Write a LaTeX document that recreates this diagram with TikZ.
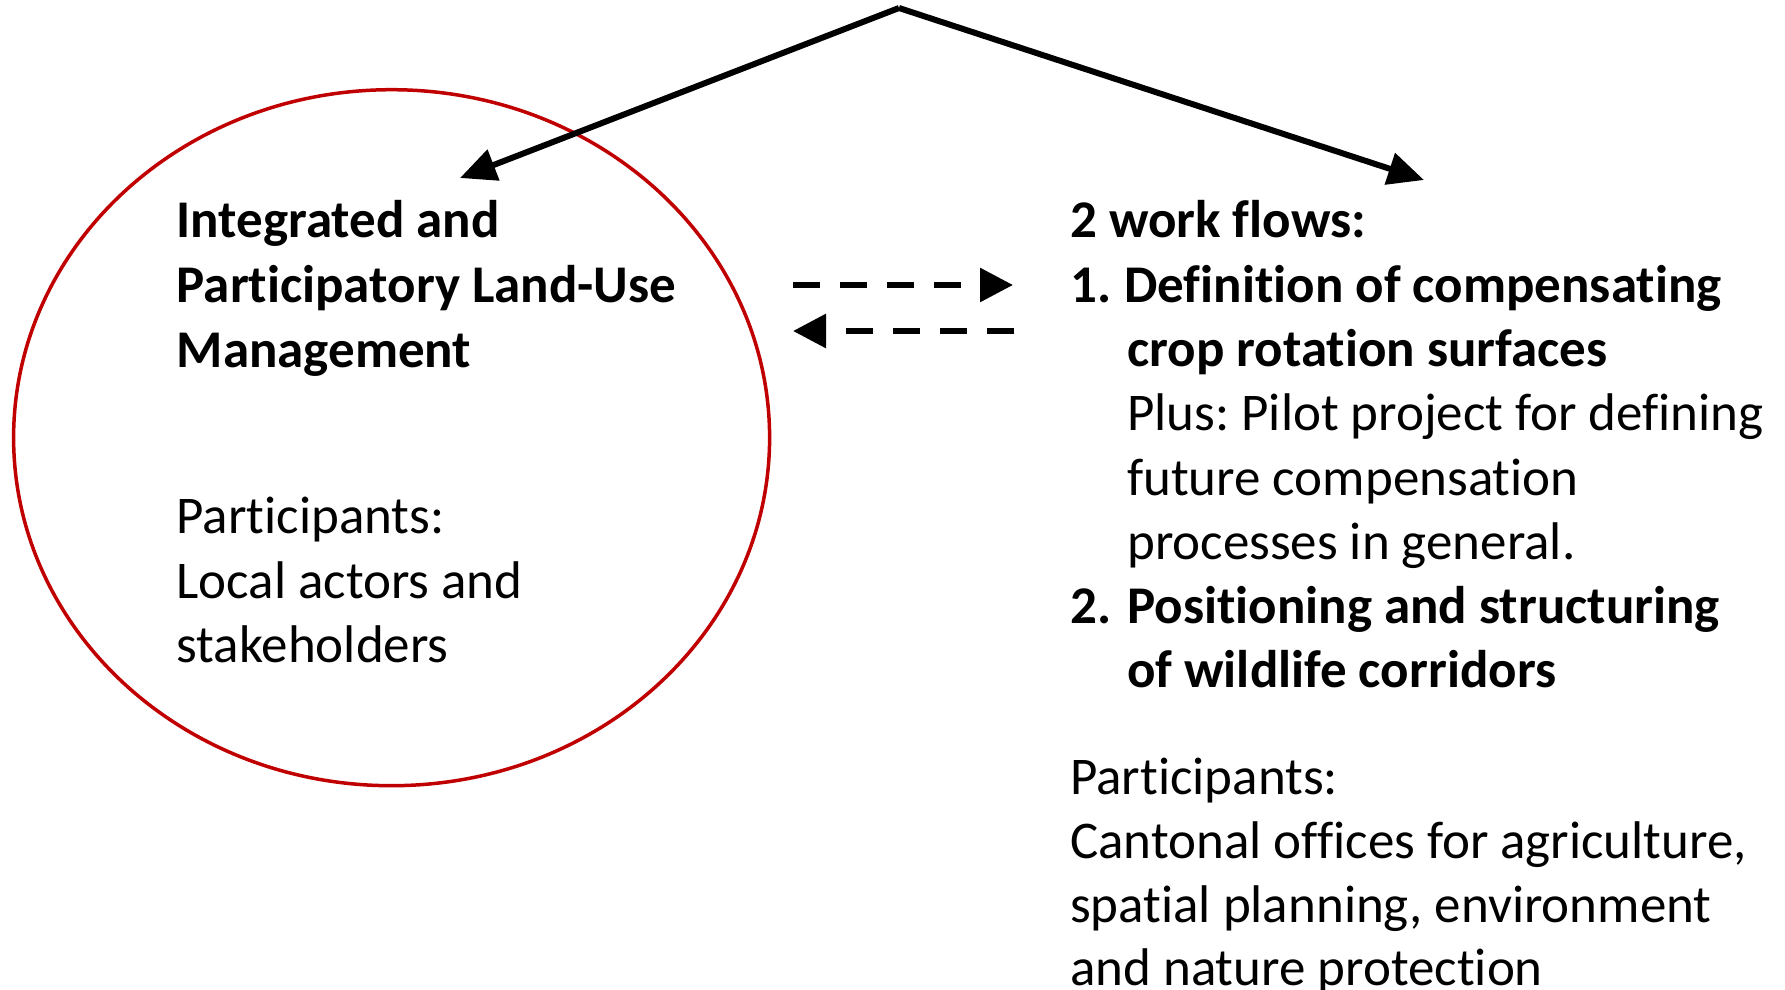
\documentclass[tikz,border=0pt]{standalone}
\usepackage{fontspec}
\setmainfont{Carlito}[Ligatures=NoCommon]
\frenchspacing
\usetikzlibrary{arrows.meta,shapes.geometric}
\definecolor{ringred}{HTML}{C00000}
\begin{document}
\begin{tikzpicture}[x=1pt,y=-1pt,
  txt/.style={anchor=base west, inner sep=0pt, font=\fontsize{53}{65}\selectfont},
  btxt/.style={anchor=base west, inner sep=0pt, font=\fontsize{53}{65}\selectfont\bfseries},
  ring/.style={draw=ringred, line width=3.5pt, ellipse, inner sep=0pt, minimum width=756pt, minimum height=696pt},
  mainarrow/.style={line width=6pt, -{Triangle[length=36pt,width=32pt]}},
  dasharrow/.style={line width=6pt, dash pattern=on 27pt off 20pt, -{Triangle[length=33pt,width=33pt]}}
]
\useasboundingbox (0,0) rectangle (1785,990);

% ellipse
\node[ring] (lum) at (391.6,437.7) {};

% top arrows
\coordinate (apex) at (899,8);
\coordinate (ltip) at (460,178);
\coordinate (rtip) at (1424,180);
\draw[mainarrow] (apex) -- (ltip);
\draw[mainarrow] (apex) -- (rtip);

% dashed arrows
\coordinate (d1s) at (793,285);
\coordinate (d1e) at (1013,285);
\coordinate (d2s) at (1014,331);
\coordinate (d2e) at (793,331);
\draw[dasharrow] (d1s) -- (d1e);
\draw[dasharrow] (d2s) -- (d2e);

% left text
\node[btxt] (l1) at (176.5,237) {Integrated and};
\node[btxt] (l2) at (176.5,302) {Participatory Land-Use};
\node[btxt] (l3) at (176.5,367) {Management};
\node[txt] (l4) at (176.5,533) {Participants:};
\node[txt] (l5) at (176.5,598) {Local actors and};
\node[txt] (l6) at (176.5,662) {stakeholders};

% right text
\node[btxt] (r0) at (1070,237) {2 work flows:};
\node[btxt] (r1n) at (1070,302) {1.};
\node[btxt] (r1a) at (1124,302) {Definition of compensating};
\node[btxt] (r1b) at (1127,366) {crop rotation surfaces};
\node[txt] (r1c) at (1127,430) {Plus: Pilot project for defining};
\node[txt] (r1d) at (1127,495) {future compensation};
\node[txt] (r1e) at (1127,559) {processes in general.};
\node[btxt] (r2n) at (1070,623) {2.};
\node[btxt] (r2a) at (1127,623) {Positioning and structuring};
\node[btxt] (r2b) at (1127,687) {of wildlife corridors};
\node[txt] (p1) at (1070,794) {Participants:};
\node[txt] (p2) at (1070,858) {Cantonal offices for agriculture,};
\node[txt] (p3) at (1070,922) {spatial planning, environment};
\node[txt] (p4) at (1070,985) {and nature protection};
\end{tikzpicture}
\end{document}
